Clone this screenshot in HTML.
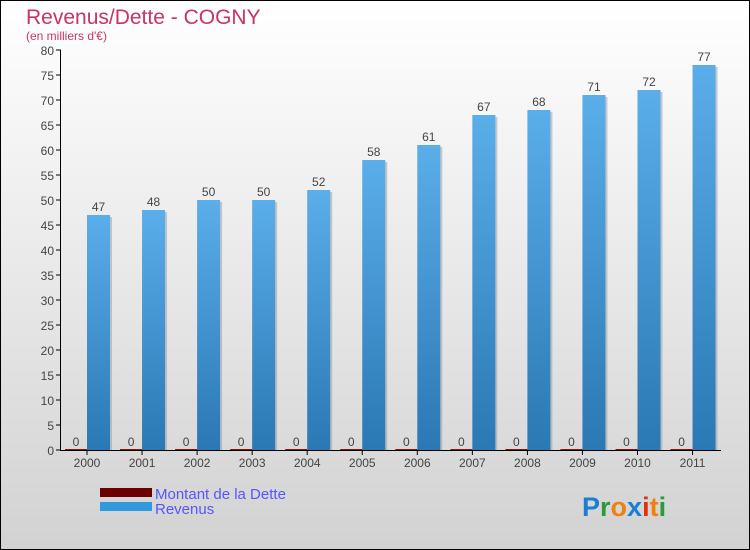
<!DOCTYPE html>
<html><head><meta charset="utf-8"><style>
body{margin:0}
#c{width:750px;height:550px;position:relative;box-sizing:border-box;border:1px solid #000;background:linear-gradient(#fff,#d2d2d2);font-family:"Liberation Sans",sans-serif;overflow:hidden}
</style></head><body>
<div id="c">
<svg width="750" height="550" id="s" style="position:absolute;left:-1px;top:-1px">
<text x="26" y="24" font-size="21" fill="#c8336a">Revenus/Dette - COGNY</text>
<text x="26" y="40" font-size="12" fill="#c8336a">(en milliers d'€)</text>
<g id="g"></g>
<rect x="100" y="488" width="52" height="9" fill="#6b0000"/>
<rect x="100" y="502" width="52" height="9" fill="#3399dd"/>
<text x="155" y="499" font-size="15" fill="#5555ff">Montant de la Dette</text>
<text x="155" y="514" font-size="15" fill="#5555ff">Revenus</text>
<text x="582" y="516" font-size="27" font-weight="bold"><tspan fill="#1a7fd4">P</tspan><tspan fill="#2a9a3a">r</tspan><tspan fill="#f08010">o</tspan><tspan fill="#1a7fd4">x</tspan><tspan fill="#e03010">i</tspan><tspan fill="#f08010">t</tspan><tspan fill="#2a9a3a">i</tspan></text>
</svg></div>
<script>
const years=["2000","2001","2002","2003","2004","2005","2006","2007","2008","2009","2010","2011"];
const revenus=[47,48,50,50,52,58,61,67,68,71,72,77];
const dette=[0,0,0,0,0,0,0,0,0,0,0,0];
const yTicks=[0,5,10,15,20,25,30,35,40,45,50,55,60,65,70,75,80];
const NS="http://www.w3.org/2000/svg",g=document.getElementById('g');
const y=v=>450-v*5, x=i=>87+i*55.05;
function mk(t,a,txt){const e=document.createElementNS(NS,t);for(const k in a)e.setAttribute(k,a[k]);if(txt!==undefined)e.textContent=txt;g.appendChild(e);return e;}
const defs=mk('defs',{});defs.innerHTML='<linearGradient id="bg" x1="0" y1="0" x2="0" y2="1"><stop offset="0" stop-color="#5aaeea"/><stop offset="1" stop-color="#2a78b4"/></linearGradient>';
yTicks.forEach(v=>{
const l=mk('line',{x1:56,x2:61,y1:y(v),y2:y(v),stroke:'#000'});


const t=mk('text',{x:54,y:y(v)+5,'font-size':12,fill:'#444','text-anchor':'end'},v);


});
years.forEach((yr,i)=>{
const cx=x(i);
const sh=mk('rect',{x:cx+2,y:y(revenus[i])+2,width:23,height:450-y(revenus[i])-2,fill:'#999',opacity:.5});


const b=mk('rect',{x:cx,y:y(revenus[i]),width:23,height:450-y(revenus[i]),fill:'url(#bg)'});


const d=mk('rect',{x:cx-22,y:y(dette[i])-1,width:22,height:Math.max(1,450-y(dette[i]))+0,fill:'#8b1010'});


const vt=mk('text',{x:cx+11.5,y:y(revenus[i])-4,'font-size':12,fill:'#444','text-anchor':'middle'},revenus[i]);


const dt=mk('text',{x:cx-11,y:y(dette[i])-4,'font-size':12,fill:'#444','text-anchor':'middle'},dette[i]);


const tk=mk('line',{x1:cx,x2:cx,y1:450,y2:455,stroke:'#000'});


const xt=mk('text',{x:cx,y:467,'font-size':12,fill:'#444','text-anchor':'middle'},yr);


});
const ya=mk('line',{x1:60.5,x2:60.5,y1:50,y2:450,stroke:'#000'});


const xa=mk('line',{x1:60,x2:721,y1:450.5,y2:450.5,stroke:'#000'});


</script>
</body></html>
